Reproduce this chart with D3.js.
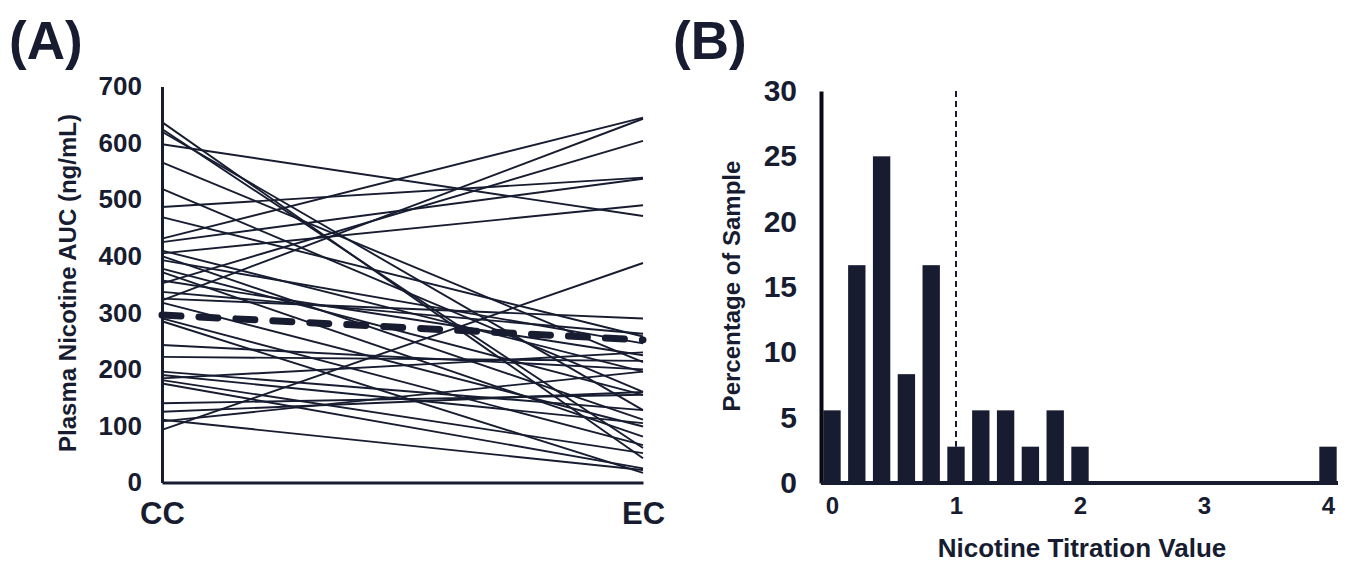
<!DOCTYPE html>
<html>
<head>
  <title>Plasma Nicotine AUC and Nicotine Titration</title>
  <style>
    body { margin: 0; background: #fff; }
    svg text { font-family: "Liberation Sans", Arial, Helvetica, sans-serif; font-weight: bold; fill: #171c30; }
  </style>
  <script src="https://d3js.org/d3.v7.min.js"></script>
</head>
<body>
  <div id="chart"></div>

  <script>
    // Panel A: each participant's AUC under CC and EC (paired by index)
    var conditions = ["CC", "EC"];
    var ccValues = [637, 625, 620, 598, 566, 519, 487, 469, 431, 425, 410, 405,
                    400, 393, 378, 372, 357, 352, 337, 325, 322, 318, 290, 285,
                    243, 222, 196, 190, 184, 181, 175, 140, 125, 111, 108, 93];
    var ecValues = [43, 61, 128, 471, 213, 160, 539, 258, 645, 537, 196, 490,
                    111, 246, 155, 81, 225, 604, 263, 290, 643, 99, 66, 17,
                    200, 215, 128, 105, 230, 52, 25, 155, 160, 22, 196, 388];
    var meanValues = [296, 252];
    var aucTicks = [0, 100, 200, 300, 400, 500, 600, 700];

    // Panel B: histogram of nicotine titration values
    var titrationBins = [0, 0.2, 0.4, 0.6, 0.8, 1.0, 1.2, 1.4, 1.6, 1.8, 2.0, 4.0];
    var percentSample = [5.56, 16.67, 25, 8.33, 16.67, 2.78, 5.56, 5.56, 2.78, 5.56, 2.78, 2.78];
    var percentTicks = [0, 5, 10, 15, 20, 25, 30];
    var titrationTicks = [0, 1, 2, 3, 4];
    var cutoff = 1;

    var ink = "#171c30";

    var svg = d3.select("#chart").append("svg")
      .attr("width", 1350)
      .attr("height", 564);

    // ---------- Panel A ----------
    var xA = d3.scalePoint().domain(conditions).range([162, 643]);
    var yA = d3.scaleLinear().domain([0, 700]).range([482.5, 86.5]);

    var gA = svg.append("g");

    var pairs = ccValues.map(function(v, i) { return [v, ecValues[i]]; });
    var lineA = d3.line()
      .x(function(d, i) { return xA(conditions[i]); })
      .y(function(d) { return yA(d); });

    gA.selectAll("path.subject")
      .data(pairs)
      .enter()
      .append("path")
      .attr("class", "subject")
      .attr("d", lineA)
      .attr("fill", "none")
      .attr("stroke", ink)
      .attr("stroke-width", 1.9);

    // group mean, thick dashed
    gA.append("path")
      .datum(meanValues)
      .attr("d", lineA)
      .attr("fill", "none")
      .attr("stroke", ink)
      .attr("stroke-width", 7)
      .attr("stroke-linecap", "round")
      .attr("stroke-dasharray", "19,18");

    var yAxisA = gA.append("g")
      .attr("transform", "translate(" + xA("CC") + ",0)")
      .call(d3.axisLeft(yA).tickValues(aucTicks).tickSize(0).tickPadding(20));
    yAxisA.select(".domain").attr("stroke", ink).attr("stroke-width", 3);
    yAxisA.selectAll("text").style("font-size", "26px").attr("fill", ink);

    var xAxisA = gA.append("g")
      .attr("transform", "translate(0," + yA(0) + ")")
      .call(d3.axisBottom(xA).tickSize(0).tickPadding(19));
    xAxisA.select(".domain").attr("stroke", ink).attr("stroke-width", 3);
    xAxisA.selectAll("text").style("font-size", "31px").attr("fill", ink);

    gA.append("text")
      .attr("transform", "translate(76,283) rotate(-90)")
      .attr("text-anchor", "middle")
      .style("font-size", "24px")
      .text("Plasma Nicotine AUC (ng/mL)");

    svg.append("text")
      .attr("x", 9)
      .attr("y", 59)
      .style("font-size", "53px")
      .text("(A)");

    // ---------- Panel B ----------
    var xB = d3.scaleLinear().domain([0, 4]).range([832, 1328]);
    var yB = d3.scaleLinear().domain([0, 30]).range([483, 91]);
    var barWidth = xB(0.14) - xB(0);

    var gB = svg.append("g");

    gB.selectAll("rect.bar")
      .data(titrationBins)
      .enter()
      .append("rect")
      .attr("class", "bar")
      .attr("x", function(d) { return xB(d) - barWidth / 2; })
      .attr("y", function(d, i) { return yB(percentSample[i]); })
      .attr("width", barWidth)
      .attr("height", function(d, i) { return yB(0) - yB(percentSample[i]); })
      .attr("fill", ink);

    var cutoffIndex = titrationBins.indexOf(cutoff);
    gB.append("line")
      .attr("x1", xB(cutoff))
      .attr("x2", xB(cutoff))
      .attr("y1", yB(30))
      .attr("y2", yB(percentSample[cutoffIndex]))
      .attr("stroke", ink)
      .attr("stroke-width", 2)
      .attr("stroke-dasharray", "6,4");

    var yAxisB = gB.append("g")
      .attr("transform", "translate(821,0)")
      .call(d3.axisLeft(yB).tickValues(percentTicks).tickSize(0).tickPadding(24));
    yAxisB.select(".domain").attr("stroke", "#0a0a14").attr("stroke-width", 4);
    yAxisB.selectAll("text").style("font-size", "30px").attr("fill", ink);

    var xAxisB = gB.append("g")
      .attr("transform", "translate(0," + yB(0) + ")")
      .call(d3.axisBottom(xB).tickValues(titrationTicks).tickFormat(d3.format("d"))
        .tickSize(0).tickPadding(14));
    xAxisB.select(".domain")
      .attr("d", "M821,0H1338")
      .attr("stroke", ink)
      .attr("stroke-width", 4);
    xAxisB.selectAll("text").style("font-size", "24px").attr("fill", ink);

    gB.append("text")
      .attr("transform", "translate(740,286) rotate(-90)")
      .attr("text-anchor", "middle")
      .style("font-size", "24px")
      .text("Percentage of Sample");

    gB.append("text")
      .attr("x", 1082)
      .attr("y", 557)
      .attr("text-anchor", "middle")
      .style("font-size", "26px")
      .text("Nicotine Titration Value");

    svg.append("text")
      .attr("x", 673)
      .attr("y", 59)
      .style("font-size", "53px")
      .text("(B)");
  </script>
</body>
</html>
